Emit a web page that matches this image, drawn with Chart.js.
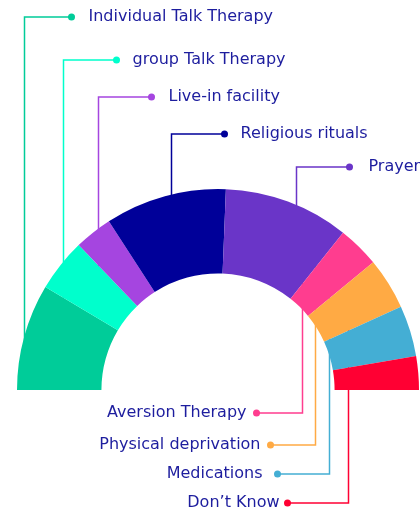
<!DOCTYPE html>
<html>
<head>
<meta charset="utf-8">
<script src="https://cdn.jsdelivr.net/npm/chart.js@4.4.1/dist/chart.umd.min.js"></script>
<style>
  html, body { margin: 0; padding: 0; background: #fff; }
  #wrap { width: 420px; height: 515px; position: relative; }
</style>
</head>
<body>
<div id="wrap"><canvas id="treatChart" width="420" height="515"></canvas></div>
<script>
// data
const categories = [
  "Individual Talk Therapy", "group Talk Therapy", "Live-in facility",
  "Religious rituals", "Prayer", "Aversion Therapy",
  "Physical deprivation", "Medications", "Don\u2019t Know"
];
const shares = [17.1, 8.5, 6.1, 19.5, 20.1, 6.7, 8.3, 8.2, 5.4];
const colors = [
  "#00CC99", "#00FFCC", "#A545E0", "#000099", "#6A35C8",
  "#FF3D8F", "#FFAA44", "#44AED4", "#FF0033"
];

// leader layout: label row y, where on the slice the line starts,
// horizontal run length, and gap between dot and text
const labelY   = [17, 60, 97, 134, 167, 413, 445, 474, 503];
const leaderT  = [0.49, 0.56, 0.67, 0.55, 0.57, 0.62, 0.39, 0.45, 0.5];
const leaderR  = [1, 1, 1, 1, 1, 0, 0, 0, 0.17];
const runLen   = [47, 53, 53, 53, 53, -46, -45, -52, -61];
const textGap  = [17, 16, 17, 16, 19, 10, 10, 15, 8];

const leaders = {
  id: "leaders",
  beforeDatasetsDraw(chart) {
    const ctx = chart.ctx;
    const arcs = chart.getDatasetMeta(0).data;
    ctx.save();
    arcs.forEach((arc, i) => {
      const a = arc.startAngle + (arc.endAngle - arc.startAngle) * leaderT[i];
      const r = arc.innerRadius + (arc.outerRadius - arc.innerRadius) * leaderR[i];
      const x = Math.round(arc.x + Math.cos(a) * r) + 0.5;
      const midR = (arc.innerRadius + arc.outerRadius) / 2;
      // hidden end of the line sits inside the ring
      const dx = x - arc.x;
      const yIn = arc.y - Math.sqrt(Math.max(midR * midR - dx * dx, 0));
      const y = labelY[i];
      ctx.strokeStyle = colors[i];
      ctx.lineWidth = 1.5;
      ctx.beginPath();
      ctx.moveTo(x, yIn);
      ctx.lineTo(x, y);
      ctx.lineTo(x + runLen[i], y);
      ctx.stroke();
    });
    ctx.restore();
  },
  afterDatasetsDraw(chart) {
    const ctx = chart.ctx;
    const arcs = chart.getDatasetMeta(0).data;
    ctx.save();
    ctx.font = "16px 'DejaVu Sans', sans-serif";
    ctx.textBaseline = "middle";
    arcs.forEach((arc, i) => {
      const a = arc.startAngle + (arc.endAngle - arc.startAngle) * leaderT[i];
      const r = arc.innerRadius + (arc.outerRadius - arc.innerRadius) * leaderR[i];
      const x = Math.round(arc.x + Math.cos(a) * r) + 0.5;
      const y = labelY[i];
      const dotX = x + runLen[i];
      ctx.fillStyle = colors[i];
      ctx.beginPath();
      ctx.arc(dotX, y, 3.5, 0, Math.PI * 2);
      ctx.fill();
      ctx.fillStyle = "#1d1d9e";
      if (runLen[i] > 0) {
        ctx.textAlign = "left";
        ctx.fillText(categories[i], dotX + textGap[i], y);
      } else {
        ctx.textAlign = "right";
        ctx.fillText(categories[i], dotX - textGap[i], y);
      }
    });
    ctx.restore();
  }
};

new Chart(document.getElementById("treatChart"), {
  type: "doughnut",
  data: {
    labels: categories,
    datasets: [{
      data: shares,
      backgroundColor: colors,
      borderWidth: 0
    }]
  },
  options: {
    responsive: false,
    animation: false,
    rotation: -90,
    circumference: 180,
    cutout: "58%",
    layout: { padding: { left: 17, right: 1, top: 189, bottom: 125 } },
    plugins: {
      legend: { display: false },
      tooltip: { enabled: false }
    }
  },
  plugins: [leaders]
});
</script>
</body>
</html>
